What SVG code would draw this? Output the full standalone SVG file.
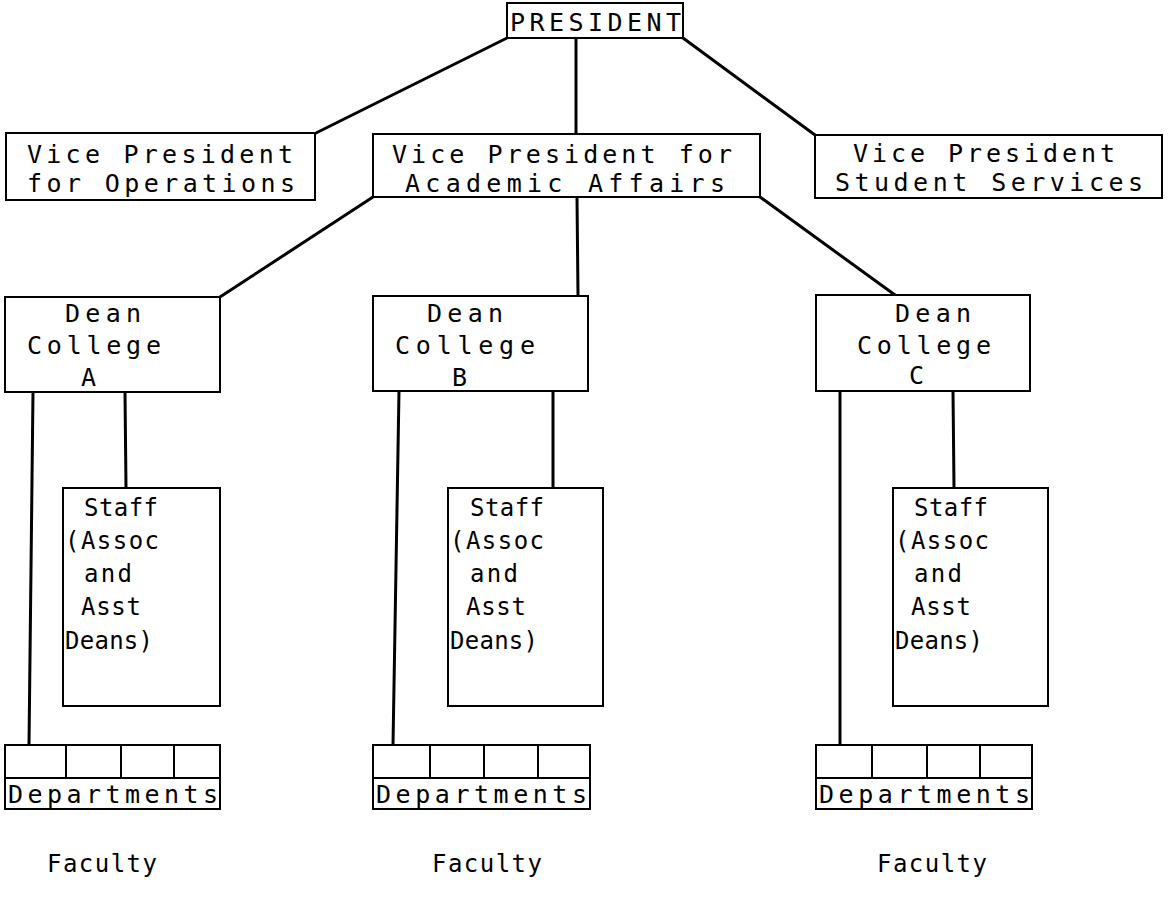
<svg xmlns="http://www.w3.org/2000/svg" width="1171" height="905" viewBox="0 0 1171 905">
<style>
.box{fill:#fff;stroke:#000;stroke-width:2}
.ln{stroke:#000;stroke-width:3;fill:none;stroke-linecap:round}
.dv{stroke:#000;stroke-width:2;fill:none}
text{font-family:"DejaVu Sans Mono","Liberation Mono",monospace;font-size:25px;fill:#000}
.s{font-size:24px}
</style>
<rect width="1171" height="905" fill="#fff"/>
<g id="connectors">
<line class="ln" x1="507" y1="38" x2="316" y2="133"/>
<line class="ln" x1="576" y1="38" x2="576" y2="134"/>
<line class="ln" x1="683" y1="38" x2="815" y2="135"/>
<line class="ln" x1="373" y1="197" x2="220" y2="297"/>
<line class="ln" x1="577" y1="197" x2="578" y2="296"/>
<line class="ln" x1="760" y1="197" x2="895" y2="295"/>
<line class="ln" x1="33" y1="392" x2="29" y2="745"/>
<line class="ln" x1="125" y1="392" x2="126" y2="488"/>
<line class="ln" x1="399" y1="391" x2="393" y2="745"/>
<line class="ln" x1="553" y1="391" x2="553" y2="488"/>
<line class="ln" x1="840" y1="391" x2="840" y2="745"/>
<line class="ln" x1="953" y1="391" x2="954" y2="488"/>
</g>
<g id="president">
<rect class="box" x="507" y="3" width="176" height="35"/>
<text x="510" y="31" font-size="26" textLength="171" lengthAdjust="spacing">PRESIDENT</text>
</g>
<g id="vp-operations">
<rect class="box" x="6" y="133" width="309" height="67"/>
<text x="27" y="163" textLength="266" lengthAdjust="spacing">Vice President</text>
<text x="27" y="192" textLength="268" lengthAdjust="spacing">for Operations</text>
</g>
<g id="vp-academic">
<rect class="box" x="373" y="134" width="387" height="63"/>
<text x="392" y="163" textLength="340" lengthAdjust="spacing">Vice President for</text>
<text x="405" y="192" textLength="320" lengthAdjust="spacing">Academic Affairs</text>
</g>
<g id="vp-student">
<rect class="box" x="815" y="135" width="347" height="63"/>
<text x="853" y="162" textLength="262" lengthAdjust="spacing">Vice President</text>
<text x="835" y="191" textLength="308" lengthAdjust="spacing">Student Services</text>
</g>
<g id="dean-a">
<rect class="box" x="5" y="297" width="215" height="95"/>
<text x="65" y="322" textLength="76" lengthAdjust="spacing">Dean</text>
<text x="27" y="354" textLength="134" lengthAdjust="spacing">College</text>
<text x="81" y="386">A</text>
</g>
<g id="dean-b">
<rect class="box" x="373" y="296" width="215" height="95"/>
<text x="427" y="322" textLength="76" lengthAdjust="spacing">Dean</text>
<text x="395" y="354" textLength="140" lengthAdjust="spacing">College</text>
<text x="452" y="386">B</text>
</g>
<g id="dean-c">
<rect class="box" x="816" y="295" width="214" height="96"/>
<text x="895" y="322" textLength="76" lengthAdjust="spacing">Dean</text>
<text x="857" y="354" textLength="134" lengthAdjust="spacing">College</text>
<text x="909" y="384">C</text>
</g>
<g id="staff-a" class="s">
<rect class="box" x="63" y="488" width="157" height="218"/>
<text class="s" x="84" y="516" textLength="74" lengthAdjust="spacing">Staff</text>
<text class="s" x="65" y="549" textLength="94" lengthAdjust="spacing">(Assoc</text>
<text class="s" x="84" y="582" textLength="48" lengthAdjust="spacing">and</text>
<text class="s" x="81" y="615" textLength="60" lengthAdjust="spacing">Asst</text>
<text class="s" x="65" y="649" textLength="88" lengthAdjust="spacing">Deans)</text>
</g>
<g id="staff-b">
<rect class="box" x="448" y="488" width="155" height="218"/>
<text class="s" x="470" y="516" textLength="74" lengthAdjust="spacing">Staff</text>
<text class="s" x="450" y="549" textLength="94" lengthAdjust="spacing">(Assoc</text>
<text class="s" x="470" y="582" textLength="48" lengthAdjust="spacing">and</text>
<text class="s" x="466" y="615" textLength="60" lengthAdjust="spacing">Asst</text>
<text class="s" x="450" y="649" textLength="88" lengthAdjust="spacing">Deans)</text>
</g>
<g id="staff-c">
<rect class="box" x="893" y="488" width="155" height="218"/>
<text class="s" x="914" y="516" textLength="74" lengthAdjust="spacing">Staff</text>
<text class="s" x="895" y="549" textLength="94" lengthAdjust="spacing">(Assoc</text>
<text class="s" x="914" y="582" textLength="48" lengthAdjust="spacing">and</text>
<text class="s" x="911" y="615" textLength="60" lengthAdjust="spacing">Asst</text>
<text class="s" x="895" y="649" textLength="88" lengthAdjust="spacing">Deans)</text>
</g>
<g id="departments-a">
<rect class="box" x="5" y="745" width="215" height="64"/>
<path class="dv" d="M5 778H220M66 745V778M121 745V778M174 745V778"/>
<text x="8" y="803" textLength="210" lengthAdjust="spacing">Departments</text>
</g>
<g id="departments-b">
<rect class="box" x="373" y="745" width="217" height="64"/>
<path class="dv" d="M373 778H590M430 745V778M484 745V778M538 745V778"/>
<text x="376" y="803" textLength="211" lengthAdjust="spacing">Departments</text>
</g>
<g id="departments-c">
<rect class="box" x="816" y="745" width="216" height="64"/>
<path class="dv" d="M816 778H1032M872 745V778M927 745V778M980 745V778"/>
<text x="819" y="803" textLength="211" lengthAdjust="spacing">Departments</text>
</g>
<g id="faculty-a"><text class="s" x="47" y="872" textLength="110" lengthAdjust="spacing">Faculty</text></g>
<g id="faculty-b"><text class="s" x="432" y="872" textLength="110" lengthAdjust="spacing">Faculty</text></g>
<g id="faculty-c"><text class="s" x="877" y="872" textLength="110" lengthAdjust="spacing">Faculty</text></g>
</svg>
